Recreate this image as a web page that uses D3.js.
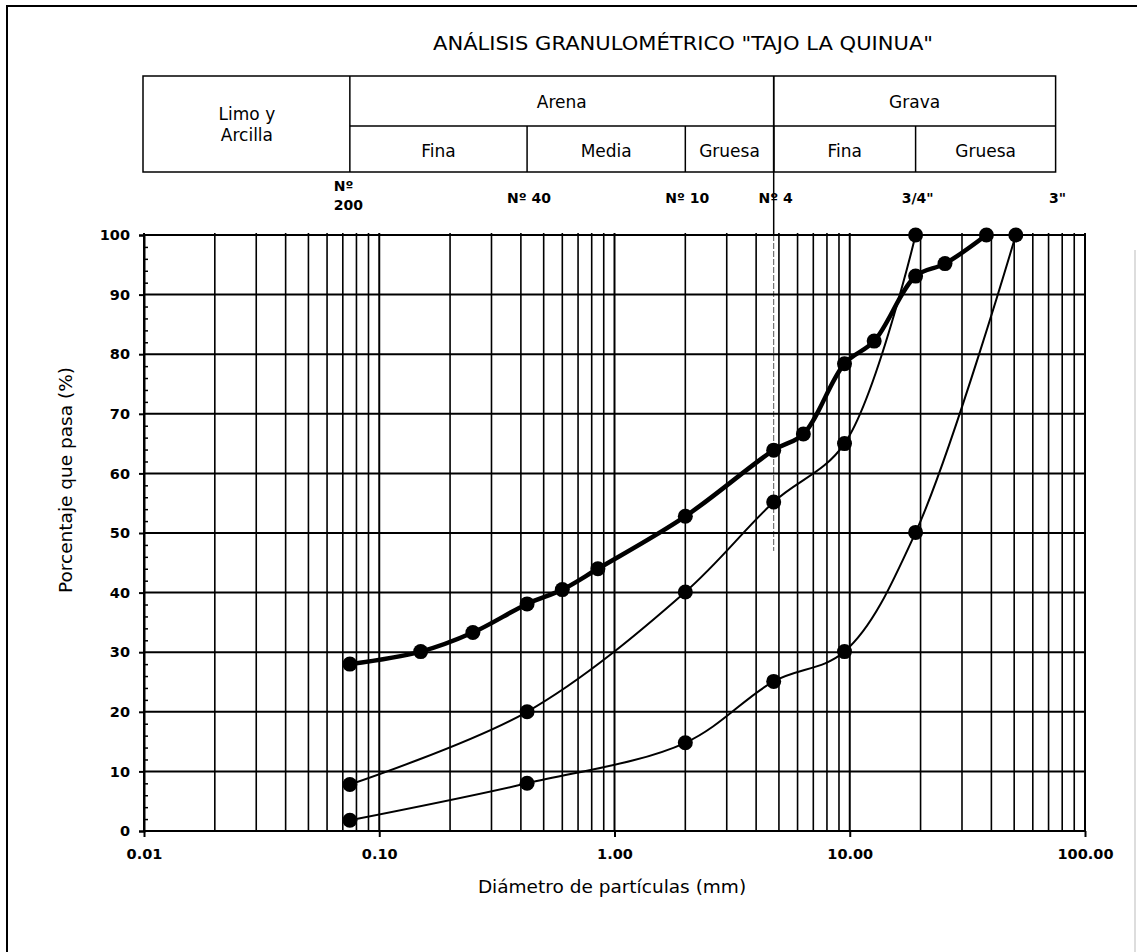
<!DOCTYPE html>
<html>
<head>
<meta charset="utf-8">
<script src="https://cdn.jsdelivr.net/npm/d3@7"></script>
<style>
    body { margin: 0; background: #fff; }
    svg text { font-family: "DejaVu Sans", Verdana, sans-serif; fill: #000; }
</style>
</head>
<body>
<div id="container"></div>
<script>
const width = 1137, height = 952;

// curva 1 (gruesa)
const diam1 = [0.075, 0.15, 0.25, 0.425, 0.6, 0.85, 2.0, 4.75, 6.35, 9.5, 12.7, 19.05, 25.4, 38.1];
const pasa1 = [28, 30.1, 33.3, 38.1, 40.5, 44, 52.8, 63.9, 66.6, 78.4, 82.2, 93.1, 95.2, 100];
// curva 2
const diam2 = [0.075, 0.425, 2.0, 4.75, 9.5, 19.05];
const pasa2 = [7.8, 20, 40.1, 55.2, 65, 100];
// curva 3
const diam3 = [0.075, 0.425, 2.0, 4.75, 9.5, 19.05, 50.8];
const pasa3 = [1.8, 8, 14.8, 25.1, 30.1, 50.1, 100];

// tamices
const sieveSizes = [0.075, 0.425, 2.0, 4.75, 19.05, 75];
const sieveLabels = [["Nº", "200"], ["Nº 40"], ["Nº 10"], ["Nº 4"], ["3/4\""], ["3\""]];

// clasificación
const groupNames = ["Arena", "Grava"];
const groupFrom = [0.075, 4.75];
const groupTo = [4.75, 75];
const subNames = ["Fina", "Media", "Gruesa", "Fina", "Gruesa"];
const subFrom = [0.075, 0.425, 2.0, 4.75, 19.05];
const subTo = [0.425, 2.0, 4.75, 19.05, 75];

const xTickLabels = ["0.01", "0.10", "1.00", "10.00", "100.00"];

const svg = d3.select('#container')
    .append('svg')
    .attr('width', width)
    .attr('height', height);

const x = d3.scaleLog().domain([0.01, 100]).range([144, 1085]);
const y = d3.scaleLinear().domain([0, 100]).range([831, 235]);

// marco de la página
svg.append('path')
    .attr('d', `M7,${height} L7,6 L${width},6`)
    .attr('fill', 'none')
    .attr('stroke', '#000')
    .attr('stroke-width', 2);
svg.append('line')
    .attr('x1', 1135).attr('x2', 1135)
    .attr('y1', 250).attr('y2', height)
    .attr('stroke', '#bbb')
    .attr('stroke-width', 1);

// título
svg.append('text')
    .attr('x', 683).attr('y', 50)
    .attr('text-anchor', 'middle')
    .attr('font-size', 19)
    .attr('textLength', 500)
    .attr('lengthAdjust', 'spacingAndGlyphs')
    .text('ANÁLISIS GRANULOMÉTRICO "TAJO LA QUINUA"');

// tabla de clasificación
const boxTop = 76, boxMid = 126, boxBot = 172;
const box = svg.append('g')
    .attr('fill', 'none')
    .attr('stroke', '#000')
    .attr('stroke-width', 1.5);
box.append('rect')
    .attr('x', x(0.01) - 1).attr('y', boxTop)
    .attr('width', x(75) - x(0.01) + 1).attr('height', boxBot - boxTop);
box.append('line')
    .attr('x1', x(0.075)).attr('x2', x(75))
    .attr('y1', boxMid).attr('y2', boxMid);
box.selectAll('.gdiv')
    .data(groupFrom)
    .enter()
    .append('line')
    .attr('x1', d => x(d)).attr('x2', d => x(d))
    .attr('y1', boxTop).attr('y2', boxBot);
box.selectAll('.sdiv')
    .data(subFrom.slice(1))
    .enter()
    .append('line')
    .attr('x1', d => x(d)).attr('x2', d => x(d))
    .attr('y1', boxMid).attr('y2', boxBot);

svg.append('text')
    .attr('text-anchor', 'middle')
    .attr('font-size', 17)
    .selectAll('tspan')
    .data(['Limo y', 'Arcilla'])
    .enter()
    .append('tspan')
    .attr('x', (x(0.01) + x(0.075)) / 2)
    .attr('y', (d, i) => 120 + i * 21)
    .text(d => d);

svg.selectAll('.group-label')
    .data(groupNames)
    .enter()
    .append('text')
    .attr('x', (d, i) => (x(groupFrom[i]) + x(groupTo[i])) / 2)
    .attr('y', 108)
    .attr('text-anchor', 'middle')
    .attr('font-size', 17)
    .text(d => d);

svg.selectAll('.sub-label')
    .data(subNames)
    .enter()
    .append('text')
    .attr('x', (d, i) => (x(subFrom[i]) + x(subTo[i])) / 2)
    .attr('y', 157)
    .attr('text-anchor', 'middle')
    .attr('font-size', 17)
    .text(d => d);

// etiquetas de tamices
sieveLabels.forEach((lines, i) => {
    const t = svg.append('text')
        .attr('font-size', 14)
        .attr('font-weight', 'bold');
    if (lines.length > 1) {
        lines.forEach((s, j) => {
            t.append('tspan')
                .attr('x', x(sieveSizes[i]) - 16)
                .attr('y', 191 + j * 19)
                .text(s);
        });
    } else {
        t.attr('x', x(sieveSizes[i]) + 2)
            .attr('y', 203)
            .attr('text-anchor', 'middle')
            .text(lines[0]);
    }
});

// línea Nº 4
svg.append('line')
    .attr('x1', x(4.75)).attr('x2', x(4.75))
    .attr('y1', boxTop).attr('y2', y(100))
    .attr('stroke', '#000')
    .attr('stroke-width', 1.5);
svg.append('line')
    .attr('x1', x(4.75)).attr('x2', x(4.75))
    .attr('y1', y(100)).attr('y2', y(47))
    .attr('stroke', '#555')
    .attr('stroke-width', 1)
    .attr('stroke-dasharray', '6,2');

// cuadrícula
const grid = svg.append('g').attr('stroke', '#000');
grid.selectAll('.vgrid')
    .data(x.ticks())
    .enter()
    .append('line')
    .attr('x1', d => x(d)).attr('x2', d => x(d))
    .attr('y1', y(100) - 2).attr('y2', y(0))
    .attr('stroke-width', d => Number.isInteger(Math.round(Math.log10(d) * 1000) / 1000) ? 2 : 1.6);
grid.selectAll('.hgrid')
    .data(y.ticks(10))
    .enter()
    .append('line')
    .attr('x1', x(0.01)).attr('x2', x(100))
    .attr('y1', d => y(d)).attr('y2', d => y(d))
    .attr('stroke-width', 2);

// ejes
const yAxis = svg.append('g')
    .attr('transform', `translate(${x(0.01)},0)`)
    .call(d3.axisLeft(y).ticks(10).tickSize(5).tickPadding(9));
yAxis.select('.domain').attr('stroke-width', 2);
yAxis.selectAll('.tick line').attr('stroke-width', 2);
yAxis.selectAll('text')
    .attr('font-size', 14.5)
    .attr('font-weight', 'bold')
    .attr('font-family', '"DejaVu Sans", Verdana, sans-serif')
    .attr('fill', '#000');

svg.append('g')
    .attr('transform', `translate(${x(0.01)},0)`)
    .call(d3.axisRight(y).tickValues(d3.range(2, 100, 2).filter(v => v % 10)).tickSize(4).tickFormat(''))
    .call(g => g.select('.domain').remove())
    .selectAll('.tick line').attr('stroke-width', 1.5);

const xAxis = svg.append('g')
    .attr('transform', `translate(0,${y(0)})`)
    .call(d3.axisBottom(x).tickValues([0.01, 0.1, 1, 10, 100]).tickSize(6).tickPadding(12)
        .tickFormat((d, i) => xTickLabels[i]));
xAxis.select('.domain').remove();
xAxis.selectAll('.tick line').attr('stroke-width', 2);
xAxis.selectAll('text')
    .attr('font-size', 14.5)
    .attr('font-weight', 'bold')
    .attr('font-family', '"DejaVu Sans", Verdana, sans-serif')
    .attr('fill', '#000');

// títulos de ejes
svg.append('text')
    .attr('transform', 'translate(72,480) rotate(-90)')
    .attr('text-anchor', 'middle')
    .attr('font-size', 18.5)
    .text('Porcentaje que pasa (%)');
svg.append('text')
    .attr('x', 612).attr('y', 893)
    .attr('text-anchor', 'middle')
    .attr('font-size', 18.5)
    .text('Diámetro de partículas (mm)');

// curvas
const series = [
    { d: diam1, p: pasa1, w: 4.5 },
    { d: diam2, p: pasa2, w: 2 },
    { d: diam3, p: pasa3, w: 2 }
];
const line = d3.line()
    .x(d => x(d[0]))
    .y(d => y(d[1]))
    .curve(d3.curveCatmullRom.alpha(0.5));

series.forEach(s => {
    const pts = s.d.map((v, i) => [v, s.p[i]]);
    svg.append('path')
        .datum(pts)
        .attr('d', line)
        .attr('fill', 'none')
        .attr('stroke', '#000')
        .attr('stroke-width', s.w)
        .attr('stroke-linejoin', 'round');
    svg.append('g')
        .selectAll('circle')
        .data(pts)
        .enter()
        .append('circle')
        .attr('cx', d => x(d[0]))
        .attr('cy', d => y(d[1]))
        .attr('r', 7.5)
        .attr('fill', '#000');
});
</script>
</body>
</html>
